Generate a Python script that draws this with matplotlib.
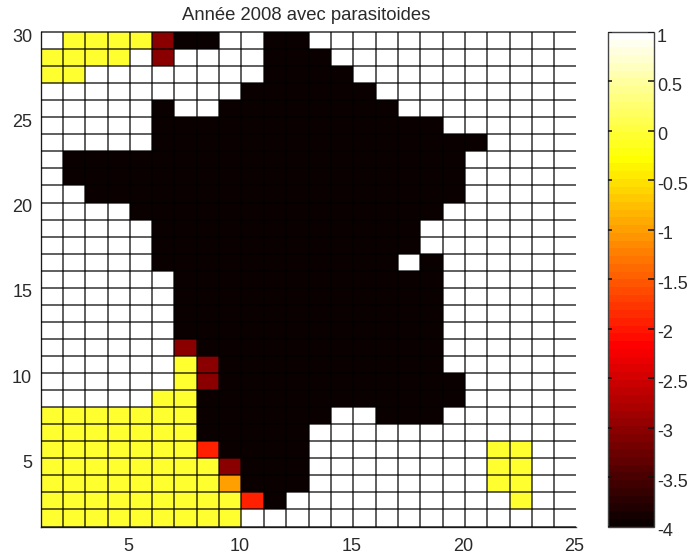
import numpy as np
import matplotlib
matplotlib.use("Agg")
import matplotlib.pyplot as plt
from matplotlib.colors import ListedColormap
from matplotlib.transforms import ScaledTranslation

plt.rcParams['font.family'] = ['Liberation Sans', 'DejaVu Sans']
plt.rcParams['axes.unicode_minus'] = False

title = "Année 2008 avec parasitoides"
x_ticks = [5, 10, 15, 20, 25]
y_ticks = [5, 10, 15, 20, 25, 30]
cbar_ticks = [-4, -3.5, -3, -2.5, -2, -1.5, -1, -0.5, 0, 0.5, 1]
cbar_labels = ["-4", "-3.5", "-3", "-2.5", "-2", "-1.5", "-1", "-0.5", "0", "0.5", "1"]

# Cell values by letter
W, Y, O, R, D, K = 1.0, -0.05, -1.0, -1.93, -3.02, -4.0
value_of = {'W': W, 'Y': Y, 'O': O, 'R': R, 'D': D, 'K': K}

# Top row (y 29-30) first, 24 columns (x 1-25)
rows = [
    "WYYYYDKKWWKKWWWWWWWWWWWW",
    "YYYYWDWWWWKKKWWWWWWWWWWW",
    "YYWWWWWWWWKKKKWWWWWWWWWW",
    "WWWWWWWWWKKKKKKWWWWWWWWW",
    "WWWWWKWWKKKKKKKKWWWWWWWW",
    "WWWWWKKKKKKKKKKKKKWWWWWW",
    "WWWWWKKKKKKKKKKKKKKKWWWW",
    "WKKKKKKKKKKKKKKKKKKWWWWW",
    "WKKKKKKKKKKKKKKKKKKWWWWW",
    "WWKKKKKKKKKKKKKKKKKWWWWW",
    "WWWWKKKKKKKKKKKKKKWWWWWW",
    "WWWWWKKKKKKKKKKKKWWWWWWW",
    "WWWWWKKKKKKKKKKKKWWWWWWW",
    "WWWWWKKKKKKKKKKKWKWWWWWW",
    "WWWWWWKKKKKKKKKKKKWWWWWW",
    "WWWWWWKKKKKKKKKKKKWWWWWW",
    "WWWWWWKKKKKKKKKKKKWWWWWW",
    "WWWWWWKKKKKKKKKKKKWWWWWW",
    "WWWWWWDKKKKKKKKKKKWWWWWW",
    "WWWWWWYDKKKKKKKKKKWWWWWW",
    "WWWWWWYDKKKKKKKKKKKWWWWW",
    "WWWWWYYKKKKKKKKKKKKWWWWW",
    "YYYYYYYKKKKKKWWKKKWWWWWW",
    "YYYYYYYKKKKKWWWWWWWWWWWW",
    "YYYYYYYRKKKKWWWWWWWWYYWW",
    "YYYYYYYYDKKKWWWWWWWWYYWW",
    "YYYYYYYYOKKKWWWWWWWWYYWW",
    "YYYYYYYYYRKWWWWWWWWWWYWW",
    "YYYYYYYYYWWWWWWWWWWWWWWW",
]

Z = np.array([[value_of[c] for c in r] for r in rows])[::-1]
ny, nx = Z.shape
xe = np.arange(1, nx + 2)
ye = np.arange(1, ny + 2)

# MATLAB-style hot(64)
n = 24
r_ = np.r_[np.arange(1, n + 1) / n, np.ones(40)]
g_ = np.r_[np.zeros(n), np.arange(1, n + 1) / n, np.ones(16)]
b_ = np.r_[np.zeros(48), np.arange(1, 17) / 16]
cmap = ListedColormap(np.c_[r_, g_, b_])

W_PX, H_PX = 691, 555
fig = plt.figure(figsize=(W_PX / 100, H_PX / 100), dpi=100)


def rect(l, t, r, b):
    return [l / W_PX, 1 - b / H_PX, (r - l) / W_PX, (b - t) / H_PX]


ax = fig.add_axes(rect(40.5, 32, 576.5, 526.5))
mesh = ax.pcolormesh(xe, ye, Z, cmap=cmap, vmin=-4, vmax=1, edgecolors='none', antialiased=False)
line_col = '#000000'
ax.vlines(xe[:-1], ye[0], ye[-1], color=line_col, lw=1.1, alpha=0.8, zorder=3)
ax.hlines(ye, xe[0], xe[-1], color=line_col, lw=1.1, alpha=0.8, zorder=3, clip_on=False)
ax.set_xlim(xe[0], xe[-1])
ax.set_ylim(ye[0], ye[-1])
ax.set_xticks(x_ticks)
ax.set_yticks(y_ticks)
for s in ['top', 'right']:
    ax.spines[s].set_visible(False)
for s in ['left', 'bottom']:
    ax.spines[s].set_color('#444444')
    ax.spines[s].set_linewidth(1.0)
ax.tick_params(length=0, labelsize=13, labelcolor='#2a2a2a')
ax.tick_params(axis='x', pad=8)
ax.tick_params(axis='y', pad=6)
down = ScaledTranslation(0, -3 / 100, fig.dpi_scale_trans)
for lab in ax.get_yticklabels():
    lab.set_transform(lab.get_transform() + down)
left = ScaledTranslation(-2 / 100, 0, fig.dpi_scale_trans)
for lab in ax.get_xticklabels():
    lab.set_transform(lab.get_transform() + left)
ax.set_title(title, fontsize=13.3, color='#2a2a2a', pad=9, x=0.4953)

cax = fig.add_axes(rect(608, 32, 654, 526.5))
cb = fig.colorbar(mesh, cax=cax)
cb.set_ticks(cbar_ticks)
cb.set_ticklabels(cbar_labels)
cb.outline.set_edgecolor('#444444')
cb.outline.set_linewidth(1.0)
cax.tick_params(axis='y', length=0, labelsize=13, labelcolor='#2a2a2a', pad=2)
for lab in cax.get_yticklabels():
    lab.set_transform(lab.get_transform() + down)
# Inward tick marks on both sides, drawn over the colour band
ytrans = cax.get_yaxis_transform()
cax.hlines(cbar_ticks, 0, 0.08, transform=ytrans, color='#111111', lw=1.1, zorder=5)
cax.hlines(cbar_ticks, 0.87, 1, transform=ytrans, color='#111111', lw=1.1, zorder=5)

fig.savefig('out.png', dpi=100)
